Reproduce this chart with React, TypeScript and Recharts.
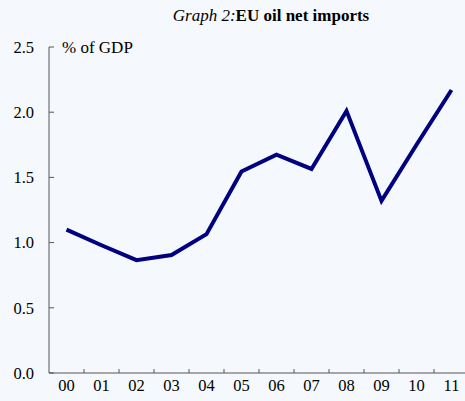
import { LineChart, Line, XAxis, YAxis } from "recharts"

// EU oil net imports, % of GDP
const years = ["00", "01", "02", "03", "04", "05", "06", "07", "08", "09", "10", "11"]
const netImports = [1.1, 0.98, 0.865, 0.905, 1.065, 1.545, 1.675, 1.565, 2.01, 1.32, 1.75, 2.17]
const yTicks = [0, 0.5, 1.0, 1.5, 2.0, 2.5]

const data = years.map((year, i) => ({ year, value: netImports[i] }))

const BG = "#f5f9fd"
const AXIS = "#555555"
const LINE = "#000080"
const FONT = "'Liberation Serif', serif"

// ticks pointing inward (right) with the label on the left
const YTick = ({ x, y, payload }: any) => (
  <g>
    <line x1={x} y1={y} x2={x + 5} y2={y} stroke={AXIS} strokeWidth={1} />
    <text x={x - 15} y={y} dy="0.35em" textAnchor="end" fontSize={16.5} fontFamily={FONT} fill="#000">
      {Number(payload.value).toFixed(1)}
    </text>
  </g>
)

// tick marks sit on the band edges and point up
const XTick = ({ x, y, payload }: any) => (
  <g>
    <line x1={x + 17.5} y1={y} x2={x + 17.5} y2={y - 4} stroke={AXIS} strokeWidth={1} />
    <text x={x} y={y + 12} dy="0.35em" textAnchor="middle" fontSize={16.5} fontFamily={FONT} fill="#000">
      {payload.value}
    </text>
  </g>
)

export default function App() {
  return (
    <div style={{ position: "absolute", left: 0, top: 0, width: 465, height: 401, overflow: "hidden", background: BG }}>
      <div
        style={{
          position: "absolute",
          left: 0,
          width: 542,
          top: 6,
          textAlign: "center",
          fontFamily: FONT,
          fontSize: 17,
          color: "#000",
          zIndex: 2,
        }}
      >
        <i>Graph 2:</i>
        <b>EU oil net imports</b>
      </div>
      <div style={{ position: "absolute", left: 62, top: 38, fontFamily: FONT, fontSize: 17, color: "#000", zIndex: 2 }}>
        % of GDP
      </div>
      <LineChart width={480} height={401} data={data} margin={{ top: 47, right: 11, bottom: 0, left: 0 }}>
        <XAxis
          dataKey="year"
          height={28}
          padding={{ left: 17.5, right: 17.5 }}
          tickLine={false}
          tickSize={0}
          tickMargin={0}
          interval={0}
          stroke={AXIS}
          tick={<XTick />}
        />
        <YAxis
          width={49}
          domain={[0, 2.5]}
          ticks={yTicks}
          tickLine={false}
          tickSize={0}
          tickMargin={0}
          stroke={AXIS}
          tick={<YTick />}
        />
        <Line
          type="linear"
          dataKey="value"
          stroke={LINE}
          strokeWidth={4}
          dot={false}
          isAnimationActive={false}
        />
      </LineChart>
    </div>
  )
}
